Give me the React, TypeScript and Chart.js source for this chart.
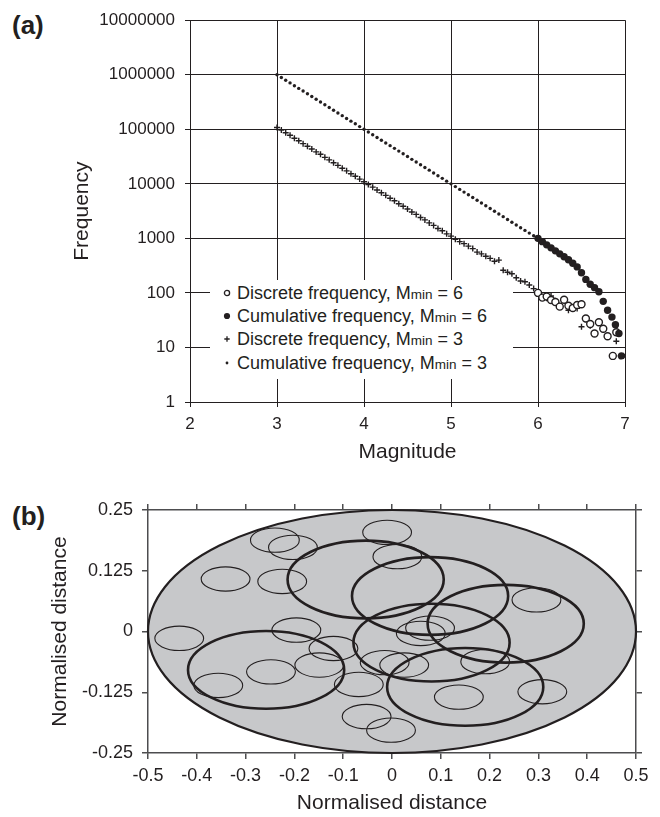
import React, { useEffect, useRef } from 'react';
import { Chart, registerables } from 'chart.js';

Chart.register(...registerables);

const FONT = "'Liberation Sans', Arial, Helvetica, sans-serif";
const INK = '#231f20';
const AXIS_GRAY = '#4d4d4f';
const REGION_FILL = '#c7c8ca';

// ---------- Panel (a): frequency-magnitude ----------
const MAG_M3 = [
  3.00, 3.05, 3.10, 3.15, 3.20, 3.25, 3.30, 3.35, 3.40, 3.45,
  3.50, 3.55, 3.60, 3.65, 3.70, 3.75, 3.80, 3.85, 3.90, 3.95,
  4.00, 4.05, 4.10, 4.15, 4.20, 4.25, 4.30, 4.35, 4.40, 4.45,
  4.50, 4.55, 4.60, 4.65, 4.70, 4.75, 4.80, 4.85, 4.90, 4.95,
  5.00, 5.05, 5.10, 5.15, 5.20, 5.25, 5.30, 5.35, 5.40, 5.45,
  5.50, 5.55, 5.60, 5.65, 5.70, 5.75, 5.80, 5.85, 5.90, 5.95,
  6.00, 6.05, 6.10, 6.15, 6.20, 6.25, 6.30, 6.35, 6.40, 6.45,
  6.50, 6.55, 6.60, 6.65, 6.70, 6.75, 6.80, 6.85, 6.90, 6.95,
];
const CUM_M3 = [
  1000000, 891000, 795000, 708000, 630000, 562000, 502000, 447000, 398000, 355000,
  316000, 282000, 251000, 224000, 199000, 178000, 158000, 141000, 126000, 112000,
  100000, 89100, 79400, 70800, 63000, 56200, 50100, 44700, 39800, 35500,
  31600, 28100, 25100, 22400, 19900, 17800, 15800, 14100, 12600, 11200,
  10000, 8900, 7900, 7050, 6300, 5600, 5000, 4450, 3960, 3530,
  3150, 2800, 2500, 2220, 1980, 1760, 1570, 1400, 1250, 1120,
  1000, 870, 760, 670, 590, 520, 460, 405, 350, 300,
  235, 177, 144, 125, 105, 70, 48, 36, 24, 7,
];
const DISC_M3 = [
  108000, 97000, 86500, 77500, 68500, 61500, 54500, 49000, 43500, 38500,
  34800, 30600, 27500, 24300, 21800, 19300, 17300, 15300, 13800, 12200,
  10900, 9700, 8700, 7700, 6850, 6150, 5450, 4900, 4320, 3880,
  3450, 3050, 2750, 2420, 2180, 1920, 1730, 1520, 1380, 1210,
  1100, 960, 870, 800, 720, 650, 560, 520, 470, 430,
  380, 400, 260, 240, 225, 190, 165, 160, 140, 120,
  100, 85, 80, 88, 72, 58, 75, 48, 55, 52,
  24, 33, 25, 18, 29, 21, 16, 7, 13, 7,
];
const MAG_M6_DISC = [6.00, 6.05, 6.10, 6.15, 6.20, 6.25, 6.30, 6.35, 6.40, 6.45, 6.50, 6.55, 6.60, 6.65, 6.70, 6.75, 6.80, 6.86, 6.90];
const DISC_M6 = [100, 82, 86, 74, 68, 56, 75, 58, 53, 60, 62, 34, 27, 18, 29, 22, 16, 7, 19];
const MAG_M6_CUM = [6.00, 6.05, 6.10, 6.15, 6.20, 6.25, 6.30, 6.35, 6.40, 6.45, 6.50, 6.55, 6.60, 6.65, 6.70, 6.75, 6.80, 6.85, 6.89, 6.93, 6.96];
const CUM_M6 = [1000, 870, 760, 670, 590, 520, 460, 405, 350, 300, 235, 177, 144, 125, 105, 70, 48, 36, 26, 18, 7];

const FREQ_TICKS = [1, 10, 100, 1000, 10000, 100000, 1000000, 10000000];
const FREQ_TICK_LABELS = ['1', '10', '100', '1000', '10000', '100000', '1000000', '10000000'];
const MAG_TICKS = [2, 3, 4, 5, 6, 7];
const MAG_TICK_LABELS = ['2', '3', '4', '5', '6', '7'];

const LEGEND_PREFIX = ['Discrete frequency, ', 'Cumulative frequency, ', 'Discrete frequency, ', 'Cumulative frequency, '];
const LEGEND_SUFFIX = [' = 6', ' = 6', ' = 3', ' = 3'];
const LEGEND_MARKERS = ['open', 'filled', 'cross', 'dot'];

// ---------- Panel (b): normalised distance map ----------
const REGION_CENTER = [0, 0];
const REGION_RADII = [0.5, 0.25];
const SMALL_X = [-0.240, -0.203, -0.010, 0.011, -0.341, -0.225, 0.296, -0.436, -0.196, 0.078, 0.059, -0.120, -0.149, -0.015, 0.025, 0.191, -0.248, -0.356, -0.068, 0.137, 0.308, -0.052, -0.002];
const SMALL_Y = [0.188, 0.173, 0.204, 0.154, 0.108, 0.103, 0.065, -0.014, 0.003, 0.007, -0.004, -0.035, -0.069, -0.064, -0.069, -0.062, -0.083, -0.111, -0.109, -0.135, -0.124, -0.175, -0.203];
const SMALL_RADII = [0.05, 0.025];
const LARGE_X = [-0.054, 0.078, 0.233, 0.081, -0.258, 0.150];
const LARGE_Y = [0.107, 0.073, 0.016, -0.023, -0.079, -0.114];
const LARGE_RADII = [0.16, 0.08];

const DIST_X_TICKS = [-0.5, -0.4, -0.3, -0.2, -0.1, 0, 0.1, 0.2, 0.3, 0.4, 0.5];
const DIST_X_LABELS = ['-0.5', '-0.4', '-0.3', '-0.2', '-0.1', '0', '0.1', '0.2', '0.3', '0.4', '0.5'];
const DIST_Y_TICKS = [-0.25, -0.125, 0, 0.125, 0.25];
const DIST_Y_LABELS = ['-0.25', '-0.125', '0', '0.125', '0.25'];

const toPoints = (xs: number[], ys: number[]) => xs.map((x, i) => ({ x, y: ys[i] }));

const ellipsePlugin = {
  id: 'ellipses',
  beforeDatasetsDraw(chart: any) {
    const { ctx, scales } = chart;
    const xs = scales.x;
    const ys = scales.y;
    const px = (v: number) => xs.getPixelForValue(v);
    const py = (v: number) => ys.getPixelForValue(v);
    const rxPx = (r: number) => Math.abs(px(r) - px(0));
    const ryPx = (r: number) => Math.abs(py(r) - py(0));
    ctx.save();
    ctx.beginPath();
    ctx.ellipse(px(REGION_CENTER[0]), py(REGION_CENTER[1]), rxPx(REGION_RADII[0]), ryPx(REGION_RADII[1]), 0, 0, Math.PI * 2);
    ctx.fillStyle = REGION_FILL;
    ctx.fill();
    ctx.lineWidth = 2.2;
    ctx.strokeStyle = INK;
    ctx.stroke();
    chart.data.datasets.forEach((ds: any, di: number) => {
      const meta = chart.getDatasetMeta(di);
      ctx.lineWidth = ds.ellipseWidth;
      ctx.strokeStyle = INK;
      meta.data.forEach((el: any) => {
        ctx.beginPath();
        ctx.ellipse(el.x, el.y, rxPx(ds.radii[0]), ryPx(ds.radii[1]), 0, 0, Math.PI * 2);
        ctx.stroke();
      });
    });
    ctx.restore();
  },
};

const markerSvg = (kind: string) => {
  if (kind === 'open') return <circle cx={5} cy={5} r={2.6} fill="#fff" stroke={INK} strokeWidth={1.3} />;
  if (kind === 'filled') return <circle cx={5} cy={5} r={3.1} fill={INK} />;
  if (kind === 'cross') return <path d="M5 2.3 V7.7 M2.3 5 H7.7" stroke={INK} strokeWidth={1.3} />;
  return <circle cx={5} cy={5} r={1.4} fill={INK} />;
};

export default function App() {
  const refA = useRef<HTMLCanvasElement>(null);
  const refB = useRef<HTMLCanvasElement>(null);

  useEffect(() => {
    const tickFont = { family: FONT, size: 17 };
    const titleFont = { family: FONT, size: 21 };
    const chartA = new Chart(refA.current as HTMLCanvasElement, {
      type: 'scatter',
      data: {
        datasets: [
          {
            label: 'Cumulative frequency, Mmin = 6',
            data: toPoints(MAG_M6_CUM, CUM_M6),
            pointStyle: 'circle', pointRadius: 3.7, backgroundColor: INK, borderColor: INK, borderWidth: 0,
          },
          {
            label: 'Discrete frequency, Mmin = 6',
            data: toPoints(MAG_M6_DISC, DISC_M6),
            pointStyle: 'circle', pointRadius: 3.5, backgroundColor: '#fff', borderColor: INK, borderWidth: 1.4,
          },
          {
            label: 'Discrete frequency, Mmin = 3',
            data: toPoints(MAG_M3, DISC_M3),
            pointStyle: 'cross', pointRadius: 3, borderColor: INK, borderWidth: 1.4,
          },
          {
            label: 'Cumulative frequency, Mmin = 3',
            data: toPoints(MAG_M3, CUM_M3),
            pointStyle: 'circle', pointRadius: 1.7, backgroundColor: INK, borderColor: INK, borderWidth: 0,
          },
        ],
      },
      options: {
        animation: false,
        responsive: false,
        maintainAspectRatio: false,
        layout: { padding: { top: 17, right: 35, left: 0, bottom: 0 } },
        plugins: { legend: { display: false }, tooltip: { enabled: false } },
        scales: {
          x: {
            type: 'linear', min: 2, max: 7,
            afterBuildTicks: (s: any) => { s.ticks = MAG_TICKS.map((v) => ({ value: v })); },
            afterFit: (s: any) => { s.height = 68; },
            ticks: { font: tickFont, color: INK, padding: 7, maxRotation: 0, callback: (_v: any, i: number) => MAG_TICK_LABELS[i] },
            grid: { color: INK, lineWidth: 1, tickLength: 5 },
            border: { color: INK, width: 1 },
            title: { display: true, text: 'Magnitude', font: titleFont, color: INK, padding: { top: 0, bottom: 5 } },
          },
          y: {
            type: 'logarithmic', min: 1, max: 10000000,
            afterBuildTicks: (s: any) => { s.ticks = FREQ_TICKS.map((v) => ({ value: v })); },
            afterFit: (s: any) => { s.width = 190; },
            ticks: { font: tickFont, color: INK, padding: 10, callback: (_v: any, i: number) => FREQ_TICK_LABELS[i] },
            grid: { color: INK, lineWidth: 1, tickLength: 5 },
            border: { color: INK, width: 1 },
            title: { display: true, text: 'Frequency', font: titleFont, color: INK, padding: { top: 70, bottom: 0 } },
          },
        },
      } as any,
    });

    const distTickFont = { family: FONT, size: 18 };
    const axisCommon = {
      grid: { drawOnChartArea: false, color: AXIS_GRAY, lineWidth: 1.5, tickLength: 6 },
      border: { color: AXIS_GRAY, width: 1.5 },
    };
    const chartB = new Chart(refB.current as HTMLCanvasElement, {
      type: 'scatter',
      data: {
        datasets: [
          { label: 'large', data: toPoints(LARGE_X, LARGE_Y), pointRadius: 0, radii: LARGE_RADII, ellipseWidth: 2.6 } as any,
          { label: 'small', data: toPoints(SMALL_X, SMALL_Y), pointRadius: 0, radii: SMALL_RADII, ellipseWidth: 1.1 } as any,
        ],
      },
      options: {
        animation: false,
        responsive: false,
        maintainAspectRatio: false,
        layout: { padding: 0 },
        plugins: { legend: { display: false }, tooltip: { enabled: false } },
        scales: {
          x: {
            type: 'linear', position: 'bottom', min: -0.5, max: 0.5,
            afterBuildTicks: (s: any) => { s.ticks = DIST_X_TICKS.map((v) => ({ value: v })); },
            afterFit: (s: any) => { s.height = 64; },
            ticks: { font: distTickFont, color: INK, padding: 6, maxRotation: 0, autoSkip: false, callback: (_v: any, i: number) => DIST_X_LABELS[i] },
            title: { display: true, text: 'Normalised distance', font: titleFont, color: INK, padding: { top: 0, bottom: 1 } },
            ...axisCommon,
          },
          x2: {
            type: 'linear', position: 'top', min: -0.5, max: 0.5,
            afterBuildTicks: (s: any) => { s.ticks = DIST_X_TICKS.map((v) => ({ value: v })); },
            afterFit: (s: any) => { s.height = 30; },
            ticks: { display: false },
            ...axisCommon,
          },
          y: {
            type: 'linear', position: 'left', min: -0.25, max: 0.25,
            afterBuildTicks: (s: any) => { s.ticks = DIST_Y_TICKS.map((v) => ({ value: v })); },
            afterFit: (s: any) => { s.width = 148; },
            ticks: { font: distTickFont, color: INK, padding: 9, autoSkip: false, callback: (_v: any, i: number) => DIST_Y_LABELS[i] },
            title: { display: true, text: 'Normalised distance', font: titleFont, color: INK, padding: { top: 48, bottom: 0 } },
            ...axisCommon,
          },
          y2: {
            type: 'linear', position: 'right', min: -0.25, max: 0.25,
            afterBuildTicks: (s: any) => { s.ticks = DIST_Y_TICKS.map((v) => ({ value: v })); },
            afterFit: (s: any) => { s.width = 24; },
            ticks: { display: false },
            ...axisCommon,
          },
        },
      } as any,
      plugins: [ellipsePlugin],
    });

    return () => {
      chartA.destroy();
      chartB.destroy();
    };
  }, []);

  const rowCenters = [12, 35, 58, 82];

  return (
    <div style={{ position: 'absolute', left: 0, top: 0, width: 660, height: 817, background: '#fff', fontFamily: FONT, color: INK }}>
      <div style={{ position: 'absolute', left: 12, top: 12, fontSize: 26, lineHeight: '26px', fontWeight: 'bold' }}>(a)</div>
      <canvas ref={refA} width={660} height={470} style={{ position: 'absolute', left: 0, top: 0, width: 660, height: 470 }} />
      <div style={{ position: 'absolute', left: 210, top: 280, width: 303, height: 99, background: '#fff' }}>
        {LEGEND_PREFIX.map((p, i) => (
          <div key={i} style={{ position: 'absolute', left: 0, top: rowCenters[i] + 1 - 11.5, height: 23, width: 303 }}>
            <svg width={10} height={10} style={{ position: 'absolute', left: 12, top: 6.5 }}>{markerSvg(LEGEND_MARKERS[i])}</svg>
            <div style={{ position: 'absolute', left: 27, top: 0, fontSize: 18, lineHeight: '23px', whiteSpace: 'nowrap' }}>
              {p}M<span style={{ fontSize: 13.5 }}>min</span>{LEGEND_SUFFIX[i]}
            </div>
          </div>
        ))}
      </div>
      <div style={{ position: 'absolute', left: 12, top: 503, fontSize: 26, lineHeight: '26px', fontWeight: 'bold' }}>(b)</div>
      <canvas ref={refB} width={660} height={337} style={{ position: 'absolute', left: 0, top: 480, width: 660, height: 337 }} />
    </div>
  );
}
